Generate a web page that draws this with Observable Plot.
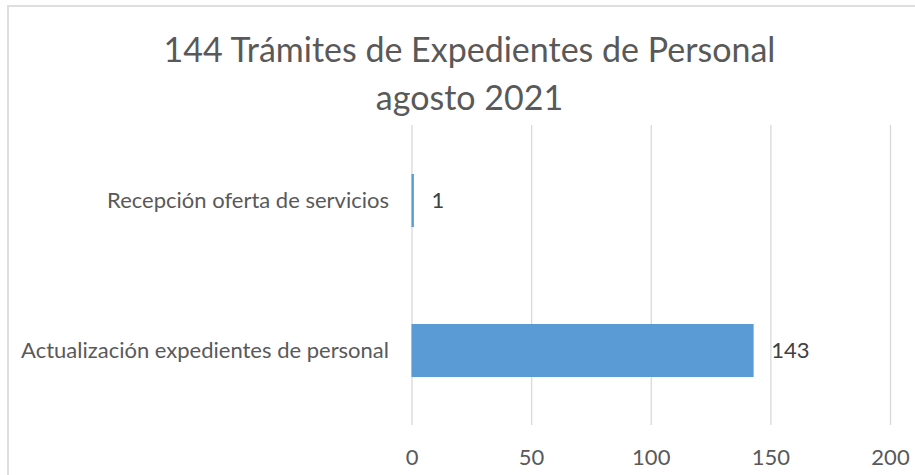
<!DOCTYPE html>
<html>
<head>
<meta charset="utf-8">
<script src="https://cdn.jsdelivr.net/npm/d3@7"></script>
<script src="https://cdn.jsdelivr.net/npm/@observablehq/plot@0.6"></script>
<style>
  html, body { margin: 0; padding: 0; background: #fff; }
  #frame { position: absolute; left: 7px; top: 5px; width: 940px; height: 500px; border: 2px solid #dedede; box-sizing: border-box; pointer-events: none; }
  #wrap { position: relative; width: 915px; height: 475px; overflow: hidden; }
  #title { height: 120px; box-sizing: border-box; padding-top: 25px; padding-left: 24px; text-align: center; font-family: Lato, "Open Sans", sans-serif; font-size: 34px; line-height: 48px; color: #595959; }
  #title div { white-space: nowrap; }
  svg { display: block; }
</style>
</head>
<body>
<div id="wrap">
  <div id="frame"></div>
  <div id="title"><div>144 Trámites de Expedientes de Personal</div><div>agosto 2021</div></div>
  <div id="chart"></div>
</div>
<script>
const categories = ["Recepción oferta de servicios", "Actualización expedientes de personal"];
const values = [1, 143];
const xTicks = [0, 50, 100, 150, 200];

const data = categories.map((c, i) => ({category: c, value: values[i]}));

const chart = Plot.plot({
  width: 915,
  height: 355,
  marginTop: 5,
  marginBottom: 50,
  marginLeft: 411.5,
  marginRight: 25,
  style: {fontFamily: "Lato, 'Open Sans', sans-serif", fontSize: "22px", color: "#595959", background: "transparent"},
  x: {domain: [0, 200], ticks: xTicks, label: null, tickSize: 0, tickPadding: 24},
  y: {domain: categories, label: null, tickSize: 0, tickPadding: 23, paddingInner: 0.647, paddingOuter: 0.3235},
  marks: [
    Plot.gridX(xTicks, {stroke: "#d9d9d9", strokeOpacity: 1, strokeWidth: 1.3}),
    Plot.barX(data, {x: "value", y: "category", fill: "#5b9bd5"}),
    Plot.text(data, {x: "value", y: "category", text: d => String(d.value), textAnchor: "start", dx: 17, fill: "#404040", fontSize: 22}),
    Plot.axisX({ticks: xTicks, tickSize: 0, tickPadding: 24, fontSize: 22, fill: "#595959"}),
    Plot.axisY({tickSize: 0, tickPadding: 23, fontSize: 22, fill: "#595959"})
  ]
});
document.getElementById("chart").appendChild(chart);
</script>
</body>
</html>
